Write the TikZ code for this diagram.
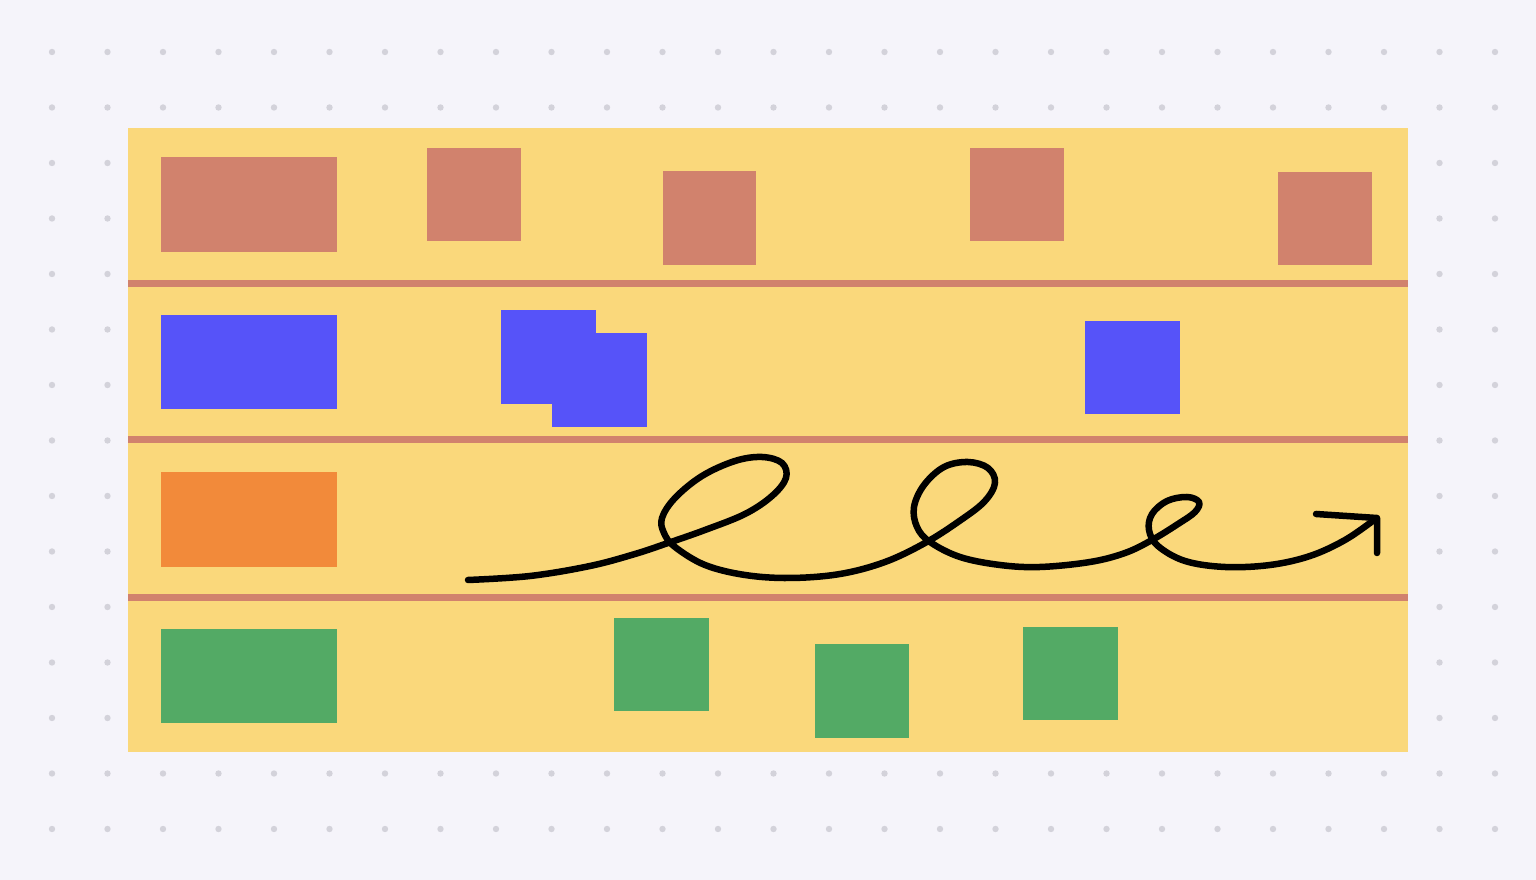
\documentclass[tikz,border=0pt]{standalone}
\usetikzlibrary{arrows.meta}

\definecolor{boardbg}{HTML}{F5F4FA}
\definecolor{griddot}{HTML}{D3D2DA}
\definecolor{lanebg}{HTML}{FAD87B}
\definecolor{salmon}{HTML}{D1826D}
\definecolor{lblue}{HTML}{5653F9}
\definecolor{lorange}{HTML}{F28A3A}
\definecolor{lgreen}{HTML}{53AA65}

\tikzset{
    divider/.style={salmon, line width=0.7mm},
    tileA/.style={fill=salmon},
    tileB/.style={fill=lblue},
    tileC/.style={fill=lorange},
    tileD/.style={fill=lgreen},
    scribble/.style={black, line width=0.65mm, line cap=round, line join=round}
}

\begin{document}
\begin{tikzpicture}[x=0.01cm, y=-0.01cm]

    % board
    \useasboundingbox (0,0) rectangle (1536,880);
    \fill[boardbg] (0,0) rectangle (1536,880);
    \foreach \i in {0,...,26}
        \foreach \j in {0,...,14}
            \fill[griddot] (52+55.5*\i, 52+55.5*\j) circle(3.2);

    % lanes
    \fill[lanebg] (128,128) rectangle (1408,752);
    \draw[divider] (128,284) -- (1408,284);
    \draw[divider] (128,440) -- (1408,440);
    \draw[divider] (128,598) -- (1408,598);

    % lane 1
    \fill[tileA] (161,157) rectangle (337,252);
    \fill[tileA] (427,148) rectangle (521,241);
    \fill[tileA] (663,171) rectangle (756,265);
    \fill[tileA] (970,148) rectangle (1064,241);
    \fill[tileA] (1278,172) rectangle (1372,265);

    % lane 2
    \fill[tileB] (161,315) rectangle (337,409);
    \fill[tileB] (501,310) rectangle (596,404);
    \fill[tileB] (552,333) rectangle (647,427);
    \fill[tileB] (1085,321) rectangle (1180,414);

    % lane 3
    \fill[tileC] (161,472) rectangle (337,567);
    \draw[scribble] plot[smooth, tension=0.6] coordinates {
        (468,580) (530,576) (590,566) (635,554) (668,543) (705,530) (745,514)
        (772,496) (786,478) (782,463) (762,457) (735,461) (702,476) (675,498)
        (662,518) (664,533) (675,547) (705,565) (745,575) (790,578) (840,574)
        (885,562) (925,543) (958,522) (984,502) (995,483) (988,468) (968,462)
        (944,467) (924,485) (914,507) (917,527) (930,542) (960,557) (1000,565)
        (1040,567) (1090,562) (1125,553) (1152,540) (1178,524) (1195,512)
        (1199,502) (1187,497) (1167,501) (1152,514) (1149,530) (1158,546)
        (1185,561) (1225,567) (1270,565) (1310,556) (1345,540) (1374,520)};
    \draw[scribble] (1316,514) -- (1377,518) -- (1377,553); % head

    % lane 4
    \fill[tileD] (161,629) rectangle (337,723);
    \fill[tileD] (614,618) rectangle (709,711);
    \fill[tileD] (815,644) rectangle (909,738);
    \fill[tileD] (1023,627) rectangle (1118,720);

\end{tikzpicture}
\end{document}
